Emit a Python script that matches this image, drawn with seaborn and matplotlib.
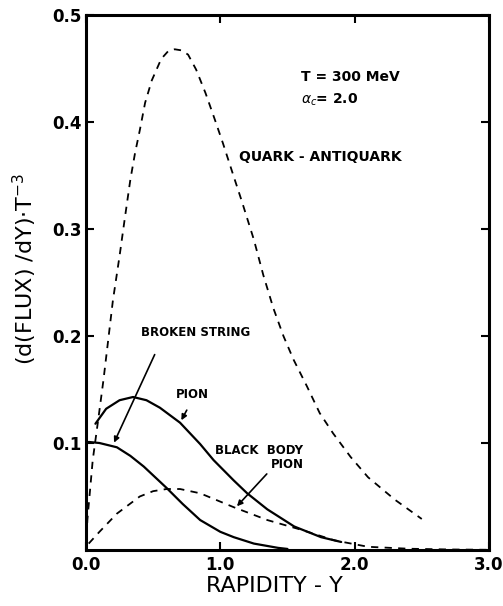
import numpy as np
import pandas as pd
import matplotlib
matplotlib.use("Agg")
import matplotlib.pyplot as plt
import seaborn as sns

# values
quark_x = [0.0, 0.01, 0.05, 0.09, 0.13, 0.2, 0.25, 0.29, 0.33, 0.365, 0.4, 0.44, 0.49,
           0.56, 0.61, 0.66, 0.71, 0.76, 0.82, 0.89, 0.96, 1.02, 1.1, 1.16, 1.25, 1.32,
           1.395, 1.47, 1.545, 1.645, 1.74, 1.84, 1.97, 2.1, 2.3, 2.5]
quark_y = [0.0, 0.028, 0.084, 0.121, 0.159, 0.233, 0.275, 0.311, 0.346, 0.371, 0.392, 0.418,
           0.439, 0.459, 0.466, 0.468, 0.467, 0.463, 0.449, 0.427, 0.402, 0.380, 0.349,
           0.326, 0.290, 0.257, 0.226, 0.200, 0.178, 0.153, 0.128, 0.109, 0.087, 0.068,
           0.047, 0.029]

pion_x = [0.07, 0.15, 0.25, 0.35, 0.45, 0.55, 0.7, 0.85, 0.95, 1.1, 1.2, 1.35, 1.55, 1.75, 1.9]
pion_y = [0.118, 0.132, 0.140, 0.143, 0.140, 0.133, 0.119, 0.099, 0.084, 0.065, 0.053, 0.038,
          0.022, 0.012, 0.0075]

string_x = [0.02, 0.1, 0.23, 0.33, 0.43, 0.6, 0.72, 0.85, 1.0, 1.1, 1.25, 1.43, 1.5]
string_y = [0.101, 0.100, 0.096, 0.088, 0.078, 0.058, 0.043, 0.028, 0.017, 0.012, 0.006, 0.002, 0.001]

bb_x = [0.02, 0.1, 0.23, 0.4, 0.5, 0.6, 0.7, 0.85, 1.1, 1.35, 1.6, 1.85, 2.1, 2.4, 2.7, 3.0]
bb_y = [0.006, 0.017, 0.034, 0.050, 0.055, 0.057, 0.057, 0.053, 0.040, 0.028, 0.019, 0.009,
        0.003, 0.0012, 0.0005, 0.0002]

xticks = [0.0, 1.0, 2.0, 3.0]
yticks = [0.1, 0.2, 0.3, 0.4, 0.5]

sns.set_style("ticks")
plt.rcParams["font.family"] = ["DejaVu Sans"]
plt.rcParams["text.color"] = "black"
plt.rcParams["axes.labelcolor"] = "black"
plt.rcParams["xtick.color"] = "black"
plt.rcParams["ytick.color"] = "black"
plt.rcParams["axes.edgecolor"] = "black"

fig = plt.figure(figsize=(5.03, 6.06), dpi=100)
ax = fig.add_axes([0.171, 0.0924, 0.801, 0.8828])

quark = pd.DataFrame({"y": quark_x, "flux": quark_y})
pion = pd.DataFrame({"y": pion_x, "flux": pion_y})
string = pd.DataFrame({"y": string_x, "flux": string_y})
bb = pd.DataFrame({"y": bb_x, "flux": bb_y})

sns.lineplot(data=quark, x="y", y="flux", ax=ax, color="black", lw=1.3,
             linestyle=(0, (4, 3.5)))
sns.lineplot(data=bb, x="y", y="flux", ax=ax, color="black", lw=1.3,
             linestyle=(0, (4, 3.5)))
sns.lineplot(data=pion, x="y", y="flux", ax=ax, color="black", lw=1.6)
sns.lineplot(data=string, x="y", y="flux", ax=ax, color="black", lw=1.6)

ax.set_xlim(0, 3.0)
ax.set_ylim(0, 0.5)
ax.set_xticks(xticks)
ax.set_xticklabels([f"{t:.1f}" for t in xticks])
ax.set_yticks(yticks)
ax.set_yticklabels([f"{t:.1f}" for t in yticks])
ax.tick_params(direction="in", top=True, right=True, length=6, width=1.5,
               labelsize=12)
ax.tick_params(axis="x", pad=4)
ax.tick_params(axis="y", pad=3)
for lab in ax.get_xticklabels() + ax.get_yticklabels():
    lab.set_fontweight("bold")
for sp in ax.spines.values():
    sp.set_linewidth(2.2)

ax.set_xlabel("RAPIDITY - Y", fontsize=16)
ax.xaxis.set_label_coords(0.467, -0.048)
ax.set_ylabel(r"(d(FLUX) /dY)$\cdot$T$^{-3}$", fontsize=16)
ax.yaxis.set_label_coords(-0.117, 0.525)

bold = dict(fontsize=8.5, fontweight="bold", color="black")
ax.text(1.6, 0.442, "T = 300 MeV", va="center", ha="left", **dict(bold, fontsize=10))
ax.text(1.6, 0.421, r"$\alpha_c$= 2.0", va="center", ha="left", **dict(bold, fontsize=10))
ax.text(1.14, 0.367, "QUARK - ANTIQUARK", va="center", ha="left", **dict(bold, fontsize=10))
ax.text(0.41, 0.203, "BROKEN STRING", va="center", ha="left", **bold)
ax.text(0.79, 0.145, "PION", va="center", ha="center", **bold)
ax.text(0.96, 0.093, "BLACK  BODY", va="center", ha="left", **bold)
ax.text(1.62, 0.080, "PION", va="center", ha="right", **bold)

arrow = dict(arrowstyle="-|>", color="black", lw=1.2, mutation_scale=8)
ax.annotate("", xy=(0.2, 0.098), xytext=(0.52, 0.185), arrowprops=arrow)
ax.annotate("", xy=(0.7, 0.119), xytext=(0.76, 0.133), arrowprops=arrow)
ax.annotate("", xy=(1.11, 0.039), xytext=(1.36, 0.073), arrowprops=arrow)

fig.savefig("out.png", dpi=100)
